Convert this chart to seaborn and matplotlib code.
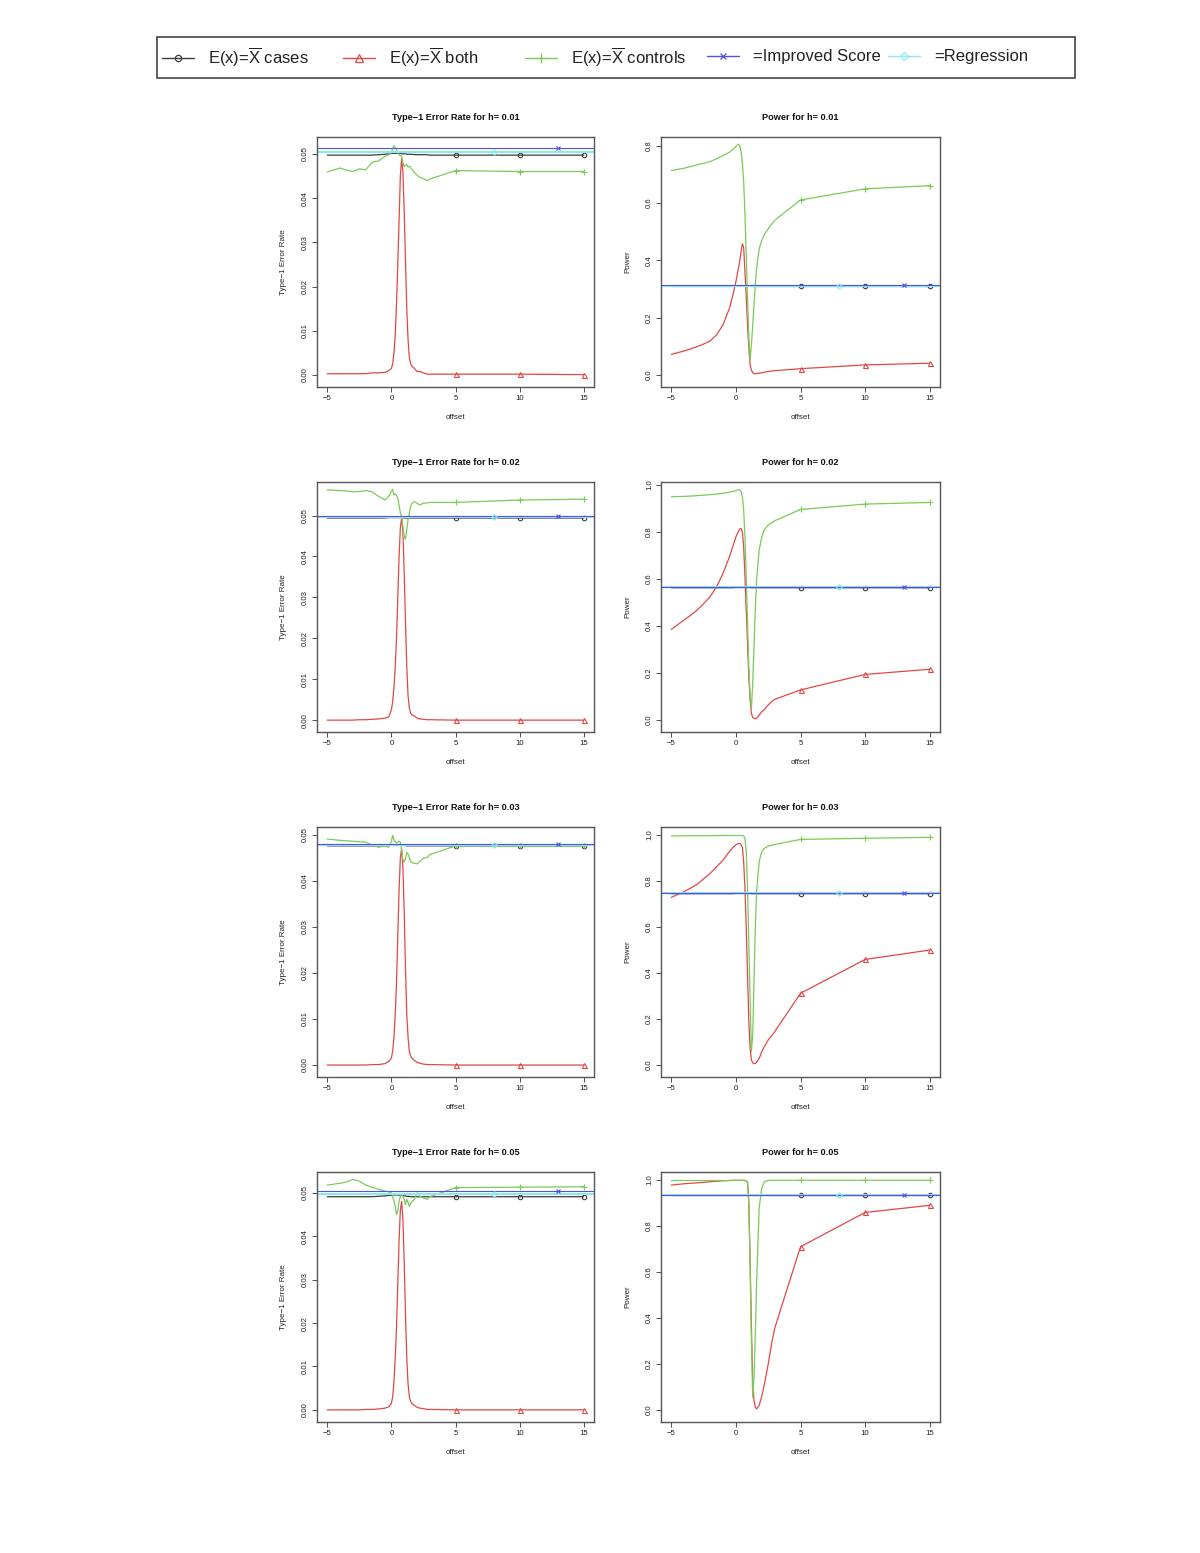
import numpy as np
import pandas as pd
import matplotlib
matplotlib.use("Agg")
import matplotlib.pyplot as plt
from matplotlib.lines import Line2D
from matplotlib.patches import Rectangle
import seaborn as sns

# ---------------- data ----------------
offset = [-5, -4, -3.5, -3, -2.5,
          -2, -1.5, -1, -0.5, -0.2,
          0, 0.1, 0.2, 0.3, 0.4,
          0.5, 0.6, 0.7, 0.8, 0.9,
          1.0, 1.1, 1.2, 1.3, 1.4,
          1.5, 1.6, 1.8, 2.0, 2.2,
          2.5, 2.8, 3.0, 5, 10,
          15]
h_labels = ["0.01", "0.02", "0.03", "0.05"]
marker_x = [5, 10, 15]
regression_marker_x = 8
improved_marker_x = 13

# Type-1 error rate, h = 0.01
t1_01_cases = [0.0497, 0.0497, 0.0497, 0.0497, 0.0497,
               0.0497, 0.0497, 0.0498, 0.0499, 0.0500,
               0.0501, 0.0501, 0.0501, 0.0501, 0.0501,
               0.0501, 0.0501, 0.0501, 0.0500, 0.0500,
               0.0500, 0.0500, 0.0499, 0.0499, 0.0499,
               0.0499, 0.0499, 0.0498, 0.0498, 0.0498,
               0.0498, 0.0498, 0.0497, 0.0497, 0.0497,
               0.0497]
t1_01_both = [0.0003, 0.0003, 0.0003, 0.0003, 0.0003,
              0.0003, 0.0005, 0.0005, 0.0006, 0.0010,
              0.0015, 0.0025, 0.0050, 0.0090, 0.0160,
              0.0250, 0.0350, 0.0450, 0.0490, 0.0460,
              0.0370, 0.0260, 0.0150, 0.0080, 0.0040,
              0.0025, 0.0020, 0.0015, 0.0008, 0.0008,
              0.0005, 0.0002, 0.0002, 0.0002, 0.0002,
              0.0001]
t1_01_controls = [0.0459, 0.0468, 0.0463, 0.0460, 0.0466,
                  0.0464, 0.0481, 0.0484, 0.0494, 0.0498,
                  0.0503, 0.0512, 0.0519, 0.0514, 0.0509,
                  0.0503, 0.0498, 0.0496, 0.0494, 0.0480,
                  0.0471, 0.0474, 0.0476, 0.0470, 0.0472,
                  0.0469, 0.0465, 0.0458, 0.0452, 0.0447,
                  0.0444, 0.0439, 0.0443, 0.0462, 0.0460,
                  0.0460]

# Power, h = 0.01
pw_01_cases = [0.309, 0.309, 0.309, 0.309, 0.309,
               0.309, 0.309, 0.309, 0.309, 0.309,
               0.310, 0.310, 0.310, 0.310, 0.310,
               0.310, 0.310, 0.310, 0.310, 0.310,
               0.310, 0.310, 0.310, 0.309, 0.309,
               0.309, 0.309, 0.309, 0.309, 0.309,
               0.309, 0.309, 0.309, 0.309, 0.309,
               0.309]
pw_01_both = [0.072, 0.084, 0.091, 0.099, 0.108,
              0.119, 0.140, 0.175, 0.233, 0.285,
              0.326, 0.350, 0.373, 0.400, 0.430,
              0.458, 0.445, 0.360, 0.270, 0.175,
              0.093, 0.035, 0.017, 0.008, 0.005,
              0.004, 0.005, 0.006, 0.008, 0.010,
              0.012, 0.014, 0.015, 0.022, 0.035,
              0.041]
pw_01_controls = [0.714, 0.722, 0.728, 0.734, 0.739,
                  0.745, 0.755, 0.766, 0.778, 0.788,
                  0.798, 0.803, 0.806, 0.800, 0.780,
                  0.740, 0.675, 0.560, 0.420, 0.270,
                  0.130, 0.053, 0.105, 0.175, 0.245,
                  0.314, 0.373, 0.440, 0.470, 0.490,
                  0.510, 0.528, 0.540, 0.611, 0.650,
                  0.661]

# Type-1 error rate, h = 0.02
t1_02_cases = [0.0494, 0.0494, 0.0494, 0.0494, 0.0494,
               0.0494, 0.0494, 0.0494, 0.0494, 0.0495,
               0.0495, 0.0495, 0.0495, 0.0495, 0.0495,
               0.0495, 0.0495, 0.0495, 0.0495, 0.0495,
               0.0494, 0.0494, 0.0494, 0.0494, 0.0494,
               0.0494, 0.0494, 0.0494, 0.0494, 0.0494,
               0.0494, 0.0494, 0.0494, 0.0494, 0.0494,
               0.0494]
t1_02_both = [0.0000, 0.0000, 0.0000, 0.0000, 0.0001,
              0.0001, 0.0002, 0.0003, 0.0005, 0.0008,
              0.0025, 0.0045, 0.0080, 0.0130, 0.0200,
              0.0300, 0.0400, 0.0470, 0.0495, 0.0460,
              0.0360, 0.0240, 0.0130, 0.0060, 0.0030,
              0.0017, 0.0013, 0.0010, 0.0005, 0.0003,
              0.0002, 0.0001, 0.0001, 0.0000, 0.0000,
              0.0000]
t1_02_controls = [0.0563, 0.0561, 0.0560, 0.0558, 0.0559,
                  0.0561, 0.0558, 0.0547, 0.0538, 0.0547,
                  0.0559, 0.0564, 0.0550, 0.0553, 0.0549,
                  0.0542, 0.0526, 0.0506, 0.0498, 0.0473,
                  0.0449, 0.0442, 0.0465, 0.0490, 0.0506,
                  0.0522, 0.0530, 0.0534, 0.0530, 0.0526,
                  0.0530, 0.0531, 0.0532, 0.0532, 0.0538,
                  0.0540]

# Power, h = 0.02
pw_02_cases = [0.563, 0.563, 0.563, 0.563, 0.563,
               0.563, 0.563, 0.563, 0.563, 0.563,
               0.564, 0.564, 0.564, 0.564, 0.564,
               0.564, 0.564, 0.564, 0.564, 0.564,
               0.564, 0.564, 0.563, 0.563, 0.563,
               0.563, 0.563, 0.563, 0.563, 0.563,
               0.563, 0.563, 0.563, 0.563, 0.563,
               0.563]
pw_02_both = [0.386, 0.426, 0.446, 0.468, 0.495,
              0.525, 0.567, 0.624, 0.695, 0.745,
              0.780, 0.792, 0.803, 0.812, 0.816,
              0.800, 0.737, 0.610, 0.468, 0.326,
              0.184, 0.085, 0.028, 0.011, 0.007,
              0.006, 0.008, 0.021, 0.035, 0.045,
              0.064, 0.080, 0.088, 0.128, 0.194,
              0.216]
pw_02_controls = [0.950, 0.952, 0.953, 0.955, 0.957,
                  0.959, 0.962, 0.965, 0.970, 0.973,
                  0.976, 0.979, 0.981, 0.978, 0.972,
                  0.950, 0.894, 0.780, 0.610, 0.410,
                  0.227, 0.100, 0.050, 0.156, 0.310,
                  0.468, 0.596, 0.723, 0.780, 0.810,
                  0.830, 0.840, 0.848, 0.896, 0.919,
                  0.926]

# Type-1 error rate, h = 0.03
t1_03_cases = [0.0476, 0.0476, 0.0476, 0.0476, 0.0476,
               0.0476, 0.0476, 0.0476, 0.0477, 0.0477,
               0.0477, 0.0477, 0.0477, 0.0477, 0.0477,
               0.0477, 0.0477, 0.0477, 0.0477, 0.0477,
               0.0477, 0.0477, 0.0476, 0.0476, 0.0476,
               0.0476, 0.0476, 0.0476, 0.0476, 0.0476,
               0.0476, 0.0476, 0.0476, 0.0476, 0.0476,
               0.0476]
t1_03_both = [0.0000, 0.0000, 0.0000, 0.0000, 0.0000,
              0.0000, 0.0001, 0.0001, 0.0003, 0.0008,
              0.0015, 0.0030, 0.0060, 0.0110, 0.0180,
              0.0280, 0.0380, 0.0450, 0.0470, 0.0430,
              0.0330, 0.0210, 0.0110, 0.0060, 0.0030,
              0.0020, 0.0015, 0.0010, 0.0006, 0.0004,
              0.0002, 0.0001, 0.0001, 0.0000, 0.0000,
              0.0000]
t1_03_controls = [0.0491, 0.0488, 0.0487, 0.0486, 0.0485,
                  0.0484, 0.0478, 0.0473, 0.0476, 0.0473,
                  0.0486, 0.0499, 0.0489, 0.0485, 0.0482,
                  0.0484, 0.0486, 0.0484, 0.0467, 0.0446,
                  0.0441, 0.0449, 0.0462, 0.0458, 0.0450,
                  0.0442, 0.0440, 0.0438, 0.0437, 0.0442,
                  0.0449, 0.0451, 0.0457, 0.0476, 0.0475,
                  0.0475]

# Power, h = 0.03
pw_03_cases = [0.745, 0.745, 0.745, 0.745, 0.745,
               0.745, 0.745, 0.745, 0.745, 0.745,
               0.746, 0.746, 0.746, 0.746, 0.746,
               0.746, 0.746, 0.746, 0.746, 0.746,
               0.746, 0.746, 0.745, 0.745, 0.745,
               0.745, 0.745, 0.745, 0.745, 0.745,
               0.745, 0.745, 0.745, 0.745, 0.745,
               0.745]
pw_03_both = [0.729, 0.754, 0.770, 0.786, 0.810,
              0.833, 0.862, 0.891, 0.928, 0.948,
              0.957, 0.961, 0.963, 0.963, 0.959,
              0.945, 0.884, 0.768, 0.594, 0.391,
              0.188, 0.072, 0.022, 0.010, 0.006,
              0.007, 0.012, 0.029, 0.058, 0.080,
              0.109, 0.130, 0.145, 0.312, 0.459,
              0.500]
pw_03_controls = [0.996, 0.997, 0.997, 0.997, 0.997,
                  0.997, 0.998, 0.998, 0.998, 0.998,
                  0.998, 0.998, 0.998, 0.998, 0.998,
                  0.998, 0.996, 0.986, 0.928, 0.768,
                  0.520, 0.275, 0.058, 0.130, 0.362,
                  0.594, 0.754, 0.884, 0.928, 0.942,
                  0.952, 0.956, 0.959, 0.981, 0.986,
                  0.990]

# Type-1 error rate, h = 0.05
t1_05_cases = [0.0491, 0.0491, 0.0491, 0.0491, 0.0491,
               0.0491, 0.0491, 0.0492, 0.0493, 0.0494,
               0.0494, 0.0495, 0.0495, 0.0495, 0.0495,
               0.0495, 0.0495, 0.0494, 0.0494, 0.0494,
               0.0493, 0.0493, 0.0492, 0.0492, 0.0492,
               0.0491, 0.0491, 0.0491, 0.0491, 0.0491,
               0.0491, 0.0491, 0.0491, 0.0491, 0.0491,
               0.0491]
t1_05_both = [0.0000, 0.0000, 0.0000, 0.0000, 0.0000,
              0.0001, 0.0001, 0.0002, 0.0004, 0.0007,
              0.0015, 0.0030, 0.0065, 0.0120, 0.0190,
              0.0290, 0.0390, 0.0460, 0.0480, 0.0440,
              0.0340, 0.0220, 0.0120, 0.0060, 0.0030,
              0.0020, 0.0015, 0.0010, 0.0006, 0.0004,
              0.0003, 0.0001, 0.0001, 0.0000, 0.0000,
              0.0000]
t1_05_controls = [0.0518, 0.0522, 0.0525, 0.0531, 0.0527,
                  0.0518, 0.0513, 0.0508, 0.0504, 0.0502,
                  0.0500, 0.0491, 0.0481, 0.0469, 0.0450,
                  0.0458, 0.0481, 0.0492, 0.0496, 0.0492,
                  0.0485, 0.0473, 0.0485, 0.0478, 0.0469,
                  0.0476, 0.0480, 0.0485, 0.0500, 0.0492,
                  0.0488, 0.0485, 0.0491, 0.0512, 0.0513,
                  0.0514]

# Power, h = 0.05
pw_05_cases = [0.933, 0.933, 0.933, 0.933, 0.933,
               0.933, 0.933, 0.933, 0.933, 0.933,
               0.933, 0.933, 0.933, 0.933, 0.933,
               0.933, 0.933, 0.933, 0.933, 0.933,
               0.933, 0.933, 0.933, 0.933, 0.933,
               0.933, 0.933, 0.933, 0.933, 0.933,
               0.933, 0.933, 0.933, 0.933, 0.933,
               0.933]
pw_05_both = [0.978, 0.984, 0.986, 0.988, 0.990,
              0.993, 0.995, 0.997, 0.998, 0.999,
              0.999, 0.999, 0.999, 0.999, 0.999,
              0.999, 0.999, 0.998, 0.997, 0.990,
              0.900, 0.650, 0.360, 0.130, 0.040,
              0.012, 0.005, 0.020, 0.060, 0.110,
              0.200, 0.300, 0.355, 0.710, 0.859,
              0.890]
pw_05_controls = [0.998, 0.998, 0.998, 0.998, 0.998,
                  0.998, 0.998, 0.998, 0.998, 0.998,
                  0.998, 0.998, 0.998, 0.998, 0.998,
                  0.998, 0.998, 0.998, 0.997, 0.990,
                  0.900, 0.620, 0.300, 0.055, 0.140,
                  0.330, 0.550, 0.880, 0.965, 0.993,
                  0.998, 0.999, 0.999, 0.999, 0.999,
                  0.999]

# constant (horizontal) results
t1_improved = [0.0513, 0.0500, 0.0480, 0.0505]
t1_regression = [0.0503, 0.0497, 0.0478, 0.0498]
pw_improved = [0.313, 0.567, 0.749, 0.935]
pw_regression = [0.311, 0.565, 0.748, 0.934]

legend_labels = [r"E(x)=$\overline{\mathrm{X}}$ cases",
                 r"E(x)=$\overline{\mathrm{X}}$ both",
                 r"E(x)=$\overline{\mathrm{X}}$ controls",
                 "=Improved Score", "=Regression"]

# ---------------- style ----------------
sns.set_style("ticks")
plt.rcParams['font.family'] = ['Liberation Sans', 'DejaVu Sans']
plt.rcParams['mathtext.fontset'] = 'custom'
plt.rcParams['mathtext.rm'] = 'Liberation Sans'
plt.rcParams['mathtext.it'] = 'Liberation Sans:italic'
plt.rcParams['axes.unicode_minus'] = True

C_CASES = "#3c3c3c"
C_BOTH = "#E04848"
C_CONTROLS = "#7ACB57"
C_IMPROVED = "#5252E6"
C_REGRESSION = "#8CE9F2"

W, H = 1200, 1553
fig = plt.figure(figsize=(W / 100, H / 100), dpi=100)
fig.patch.set_facecolor("white")

row_tops = [137, 482, 827, 1172]
ax_h = 250
left_x, left_w = 317, 277
right_x, right_w = 661, 279

t1_ylims = [(-0.0027, 0.0538), (-0.0029, 0.0582), (-0.0026, 0.0517), (-0.0028, 0.0548)]
pw_ylims = [(-0.042, 0.831), (-0.051, 1.013), (-0.052, 1.035), (-0.052, 1.035)]

t1_cases_all = [t1_01_cases, t1_02_cases, t1_03_cases, t1_05_cases]
t1_both_all = [t1_01_both, t1_02_both, t1_03_both, t1_05_both]
t1_controls_all = [t1_01_controls, t1_02_controls, t1_03_controls, t1_05_controls]
pw_cases_all = [pw_01_cases, pw_02_cases, pw_03_cases, pw_05_cases]
pw_both_all = [pw_01_both, pw_02_both, pw_03_both, pw_05_both]
pw_controls_all = [pw_01_controls, pw_02_controls, pw_03_controls, pw_05_controls]

mk_idx = [offset.index(v) for v in marker_x]


def draw_panel(ax, cases, both, controls, improved, regression,
               ylim, yticks, yfmt, title, ylabel, axw):
    df = pd.DataFrame({"offset": offset, "cases": cases,
                       "both": both, "controls": controls})
    common = dict(ax=ax, estimator=None, sort=False, lw=0.9, markevery=mk_idx,
                  mew=0.8, legend=False)
    sns.lineplot(data=df, x="offset", y="cases", color=C_CASES, marker="o",
                 mfc="none", mec=C_CASES, ms=3.2, **common)
    sns.lineplot(data=df, x="offset", y="both", color=C_BOTH, marker="^",
                 mfc="none", mec=C_BOTH, ms=3.6, **common)
    sns.lineplot(data=df, x="offset", y="controls", color=C_CONTROLS, marker="+",
                 mec=C_CONTROLS, ms=5, **common)
    ax.axhline(regression, color=C_REGRESSION, lw=1.5)
    ax.axhline(improved, color=C_IMPROVED, lw=0.8)
    sns.lineplot(x=[improved_marker_x], y=[improved], ax=ax, color=C_IMPROVED,
                 marker="x", mec=C_IMPROVED, ms=3.2, mew=0.8, lw=0, legend=False)
    sns.lineplot(x=[regression_marker_x], y=[regression], ax=ax, color=C_REGRESSION,
                 marker="D", mfc="none", mec=C_REGRESSION, ms=2.8, mew=0.8, lw=0,
                 legend=False)

    ax.set_xlim(-5.8, 15.8)
    ax.set_ylim(*ylim)
    ax.set_xticks([-5, 0, 5, 10, 15])
    ax.set_yticks(yticks)
    ax.set_yticklabels([yfmt.format(v) for v in yticks])
    ax.tick_params(axis="both", labelsize=5.6, length=3.6, width=0.6,
                   direction="out", pad=2.2, color="#333333", labelcolor="#222222")
    for lbl in ax.get_yticklabels():
        lbl.set_rotation(90)
        lbl.set_va("center")
        lbl.set_ha("right")
    for sp in ax.spines.values():
        sp.set_visible(True)
        sp.set_color("#555555")
        sp.set_linewidth(1.0)
    ax.set_title(title, fontsize=6.6, fontweight="bold", pad=12, color="#111111")
    ax.set_xlabel("offset", fontsize=5.8, color="#222222")
    ax.set_ylabel(ylabel, fontsize=5.8, color="#222222")
    ax.xaxis.set_label_coords(0.5, -0.108)
    ax.yaxis.set_label_coords(-30 / axw, 0.5)
    ax.set_facecolor("white")


for r in range(4):
    bottom = 1 - (row_tops[r] + ax_h) / H
    axl = fig.add_axes([left_x / W, bottom, left_w / W, ax_h / H])
    draw_panel(axl, t1_cases_all[r], t1_both_all[r], t1_controls_all[r],
               t1_improved[r], t1_regression[r], t1_ylims[r],
               [0.00, 0.01, 0.02, 0.03, 0.04, 0.05], "{:.2f}",
               "Type\u22121 Error Rate for h= " + h_labels[r],
               "Type\u22121 Error Rate", left_w)
    axr = fig.add_axes([right_x / W, bottom, right_w / W, ax_h / H])
    pticks = [0.0, 0.2, 0.4, 0.6, 0.8] if r == 0 else [0.0, 0.2, 0.4, 0.6, 0.8, 1.0]
    draw_panel(axr, pw_cases_all[r], pw_both_all[r], pw_controls_all[r],
               pw_improved[r], pw_regression[r], pw_ylims[r],
               pticks, "{:.1f}",
               "Power for h= " + h_labels[r], "Power", right_w)

# ---------------- legend ----------------
fig.add_artist(Rectangle((157 / W, 1 - 78 / H), (1075 - 157) / W, (78 - 37) / H,
                         transform=fig.transFigure, fill=False,
                         edgecolor="#444444", linewidth=1.2))
handles = [
    Line2D([], [], color=C_CASES, marker="o", mfc="none", mec=C_CASES, ms=4.5, lw=1.0, mew=0.9),
    Line2D([], [], color=C_BOTH, marker="^", mfc="none", mec=C_BOTH, ms=5.5, lw=1.0, mew=0.9),
    Line2D([], [], color=C_CONTROLS, marker="+", mec=C_CONTROLS, ms=7, lw=1.0, mew=0.9),
    Line2D([], [], color=C_IMPROVED, marker="x", mec=C_IMPROVED, ms=5, lw=1.0, mew=0.9),
    Line2D([], [], color=C_REGRESSION, marker="D", mfc="none", mec=C_REGRESSION, ms=4.5, lw=1.0, mew=0.9),
]
handle_x = [162, 343, 525, 707, 888]
for hx, hd, lab in zip(handle_x, handles, legend_labels):
    leg = fig.legend(handles=[hd], labels=[lab], loc="center left",
                     bbox_to_anchor=(hx / W, 1 - 57 / H), frameon=False,
                     fontsize=12, handlelength=1.9, handletextpad=0.85,
                     borderpad=0, borderaxespad=0)
    for t in leg.get_texts():
        t.set_color("#222222")

fig.savefig("out.png", dpi=100, facecolor="white")
